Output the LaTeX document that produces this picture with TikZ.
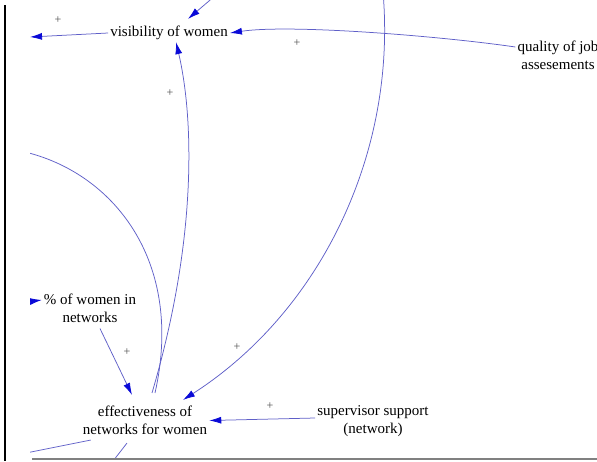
\documentclass[tikz,border=0pt]{standalone}
\usepackage{fontspec}
\setmainfont{Liberation Serif}
\usetikzlibrary{arrows.meta}
\definecolor{duongnoi}{RGB}{95,95,200}
\definecolor{muiten}{RGB}{10,10,215}
\begin{document}
\begin{tikzpicture}[x=1pt,y=-1pt,font=\fontsize{15}{18}\selectfont,
	bien/.style={align=center,inner sep=2pt},
	noi/.style={draw=duongnoi,line width=0.75pt,-{Latex[color=muiten,length=12pt,width=7pt]}},
	dau/.style={font=\fontsize{12}{12}\selectfont,text=black!70,inner sep=0pt}]
	\useasboundingbox (0,0) rectangle (597,461);
	%Khung:
	\draw[line width=2pt] (5,5) -- (5,461);
	\draw[gray,line width=1.2pt] (32,459) -- (597,459);
	\begin{scope}
		\clip (30,0) rectangle (597,457);
		%Các biến:
		\path
		(169,33) node[bien] (vis) {visibility of women}
		(558,55) node[bien] (qual) {quality of job\\assesements}
		(90,308) node[bien] (pct) {\% of women in\\networks}
		(145,420.5) node[bien] (eff) {effectiveness of\\networks for women}
		(373,421) node[bien] (sup) {supervisor support\\(network)}
		(30,37) coordinate (L1)
		(216,-5) coordinate (T1)
		(383,-8) coordinate (T2)
		(12,149) coordinate (L2)
		(18,303) coordinate (L3)
		(6,457) coordinate (L4)
		(103,474) coordinate (B1);
		%Các mũi tên:
		\draw[noi] (vis.west) -- (L1);
		\draw[noi] (T1) -- ([xshift=19pt,yshift=5pt]vis.north);
		\draw[noi] ([yshift=8pt]qual.west) .. controls (440,36) and (290,24) .. (vis.east);
		\draw[noi] ([xshift=7pt,yshift=11pt]eff.north) .. controls (200,230) and (192,110) .. ([xshift=7pt]vis.south);
		\draw[noi] ([xshift=10pt,yshift=11pt]eff.north) .. controls (185,260) and (112,172) .. (L2);
		\draw[noi] (L3) -- ([yshift=8pt]pct.west);
		\draw[noi] ([xshift=10pt,yshift=-4pt]pct.south) -- ([xshift=-13pt,yshift=9pt]eff.north);
		\draw[noi] (T2) .. controls (397,154) and (320,312) .. ([xshift=38pt,yshift=4pt]eff.north);
		\draw[noi] ([yshift=3pt]sup.west) -- (eff.east);
		\draw[noi] ([xshift=10pt,yshift=-3pt]eff.south west) -- (L4);
		\draw[noi] ([xshift=-18pt,yshift=-6pt]eff.south) -- (B1);
		%Dấu:
		\path (58,20) node[dau] {+}
		(297,43) node[dau] {+}
		(170,93) node[dau] {+}
		(127,352) node[dau] {+}
		(237,347) node[dau] {+}
		(270,406) node[dau] {+};
	\end{scope}
\end{tikzpicture}
\end{document}
